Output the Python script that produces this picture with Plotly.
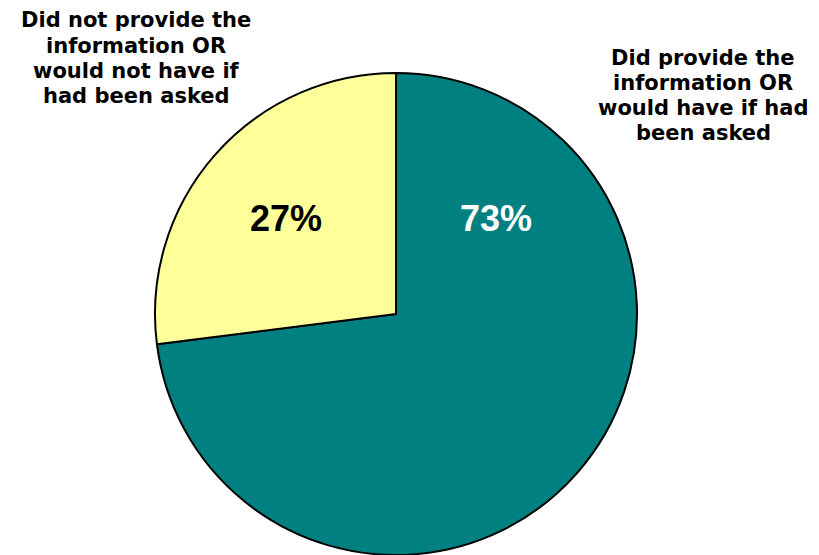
import plotly.graph_objects as go

# Data
categories = ["Did provide the information OR would have if had been asked",
              "Did not provide the information OR would not have if had been asked"]
values = [73, 27]
colors = ["#008080", "#FFFF99"]
pct_text_colors = ["white", "black"]
label_lines = [
    ["Did provide the", "information OR", "would have if had", "been asked"],
    ["Did not provide the", "information OR", "would not have if", "had been asked"],
]

W, H = 819, 555
cx, cy, r = 396, 314, 241

fig = go.Figure()
fig.add_trace(go.Pie(
    labels=categories,
    values=values,
    sort=False,
    direction="clockwise",
    rotation=0,
    marker=dict(colors=colors, line=dict(color="black", width=2)),
    textinfo="none",
    hoverinfo="none",
    showlegend=False,
    domain=dict(x=[(cx - r) / W, (cx + r) / W], y=[(H - cy - r) / H, (H - cy + r) / H]),
))

pct_font = "Liberation Sans, Arial, sans-serif"
label_font = "DejaVu Sans, Liberation Sans, Arial, sans-serif"
annotations = []
total = sum(values)
pct_pos = [(496, 219), (286, 219)]
for i, v in enumerate(values):
    px, py = pct_pos[i]
    annotations.append(dict(
        x=px / W, y=1 - py / H, xref="paper", yref="paper",
        text="<b>%d%%</b>" % round(100 * v / total), showarrow=False,
        font=dict(family=pct_font, size=36, color=pct_text_colors[i]),
        xanchor="center", yanchor="middle",
    ))

label_pos = [(136, 20.5), (703, 58)]
label_pos = label_pos[::-1]
step = 25
for i, lines in enumerate(label_lines):
    lx, ly = label_pos[i]
    for j, t in enumerate(lines):
        annotations.append(dict(
            x=lx / W, y=1 - (ly + j * step) / H, xref="paper", yref="paper",
            text="<b>%s</b>" % t, showarrow=False,
            font=dict(family=label_font, size=21, color="black"),
            xanchor="center", yanchor="middle",
        ))

fig.update_layout(
    width=W, height=H,
    margin=dict(l=0, r=0, t=0, b=0),
    paper_bgcolor="white", plot_bgcolor="white",
    annotations=annotations,
)

fig.write_html(
    "out.html",
    config={"displayModeBar": False},
    post_script="document.body.style.margin='0';document.body.style.overflow='hidden';",
)
